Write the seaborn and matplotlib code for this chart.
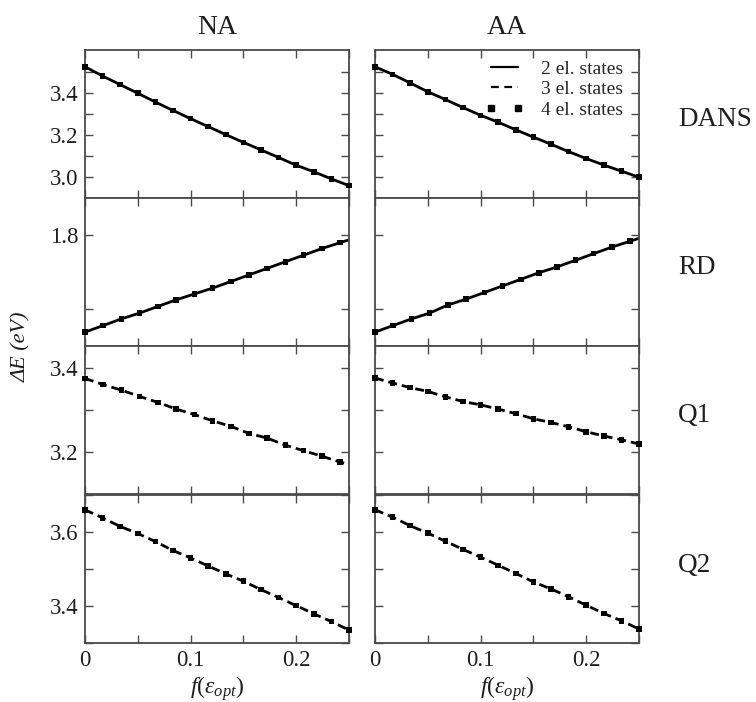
import matplotlib
matplotlib.use("Agg")
import matplotlib.pyplot as plt
import pandas as pd
import seaborn as sns
from matplotlib.lines import Line2D

sns.set_theme(style="ticks")
plt.rcParams["font.family"] = ["Liberation Serif", "DejaVu Serif"]
plt.rcParams["mathtext.fontset"] = "custom"
plt.rcParams["mathtext.rm"] = "Liberation Serif"
plt.rcParams["mathtext.it"] = "Liberation Serif:italic"

# Solvent polarity function f(eps_opt) for the two sampling grids
x16 = [0.0, 0.0167, 0.0333, 0.05, 0.0667, 0.0833, 0.1, 0.1167,
       0.1333, 0.15, 0.1667, 0.1833, 0.2, 0.2167, 0.2333, 0.25]
x15 = [0.0, 0.0173, 0.0345, 0.0518, 0.069, 0.0863, 0.1035, 0.1208,
       0.138, 0.1553, 0.1725, 0.1898, 0.207, 0.2243, 0.2415]
x_end = 0.25

molecules = ["DANS", "RD", "Q1", "Q2"]
columns = ["NA", "AA"]

# Excitation energies (eV), 4 electronic states
dans_na = [3.525, 3.481, 3.440, 3.399, 3.357, 3.317, 3.278, 3.240,
           3.202, 3.165, 3.129, 3.093, 3.056, 3.025, 2.991, 2.959]
dans_aa = [3.525, 3.489, 3.448, 3.406, 3.369, 3.331, 3.294, 3.261,
           3.225, 3.190, 3.156, 3.121, 3.088, 3.057, 3.028, 2.999]
rd_na = [1.668, 1.677, 1.686, 1.694, 1.703, 1.712, 1.720, 1.728,
         1.737, 1.746, 1.755, 1.764, 1.773, 1.782, 1.790]
rd_aa = [1.668, 1.677, 1.686, 1.694, 1.705, 1.713, 1.722, 1.731,
         1.740, 1.749, 1.757, 1.766, 1.775, 1.784, 1.792]
q1_na = [3.375, 3.360, 3.347, 3.332, 3.318, 3.302, 3.289, 3.274,
         3.261, 3.244, 3.233, 3.216, 3.203, 3.190, 3.176]
q1_aa = [3.376, 3.364, 3.353, 3.344, 3.331, 3.320, 3.312, 3.302,
         3.291, 3.279, 3.270, 3.260, 3.248, 3.238, 3.229, 3.219]
q2_na = [3.660, 3.638, 3.615, 3.596, 3.574, 3.550, 3.530, 3.508,
         3.487, 3.467, 3.444, 3.423, 3.401, 3.379, 3.358, 3.335]
q2_aa = [3.660, 3.640, 3.617, 3.597, 3.575, 3.553, 3.532, 3.510,
         3.488, 3.465, 3.446, 3.425, 3.402, 3.380, 3.360, 3.338]

# Values of the fewer-state curves at f = 0.25 where the 4-state grid stops earlier
rd_na_end = 1.794
rd_aa_end = 1.796
q1_na_end = 3.170

points = {
    ("DANS", "NA"): (x16, dans_na), ("DANS", "AA"): (x16, dans_aa),
    ("RD", "NA"): (x15, rd_na), ("RD", "AA"): (x15, rd_aa),
    ("Q1", "NA"): (x15, q1_na), ("Q1", "AA"): (x16, q1_aa),
    ("Q2", "NA"): (x16, q2_na), ("Q2", "AA"): (x16, q2_aa),
}
line_ends = {("RD", "NA"): rd_na_end, ("RD", "AA"): rd_aa_end,
             ("Q1", "NA"): q1_na_end}

rows = []
for (mol, col), (xs, ys) in points.items():
    for xv, yv in zip(xs, ys):
        rows.append(dict(mol=mol, col=col, f=xv, E=yv, kind="pts"))
        rows.append(dict(mol=mol, col=col, f=xv, E=yv, kind="line"))
    if (mol, col) in line_ends:
        rows.append(dict(mol=mol, col=col, f=x_end, E=line_ends[(mol, col)], kind="line"))
df = pd.DataFrame(rows)

# Axis settings per molecule: limits, major ticks, minor ticks
ylims = {"DANS": (2.905, 3.605), "RD": (1.649, 1.851),
         "Q1": (3.101, 3.452), "Q2": (3.3035, 3.70)}
ymajor = {"DANS": [3.0, 3.2, 3.4], "RD": [1.8], "Q1": [3.2, 3.4], "Q2": [3.4, 3.6]}
yminor = {"DANS": [2.9, 3.1, 3.3, 3.5], "RD": [1.7], "Q1": [3.1, 3.3], "Q2": [3.3, 3.5, 3.7]}
line_style = {"DANS": "-", "RD": "-", "Q1": (0, (3.2, 1.8)), "Q2": (0, (3.2, 1.8))}

W, H = 756, 702
fig = plt.figure(figsize=(W / 100, H / 100), dpi=100)
col_left = {"NA": 85, "AA": 375}
ax_w = 264
row_top = [50, 198, 346, 495]
ax_h = 148
spine_col = "#4a4a4a"
text_col = "#1e1e1e"

for i, mol in enumerate(molecules):
    for col in columns:
        ax = fig.add_axes([col_left[col] / W, 1 - (row_top[i] + ax_h) / H,
                           ax_w / W, ax_h / H])
        sub = df[(df.mol == mol) & (df.col == col)]
        sns.lineplot(data=sub[sub.kind == "line"], x="f", y="E", ax=ax,
                     color="black", lw=2.0, linestyle=line_style[mol],
                     sort=True, estimator=None)
        sns.scatterplot(data=sub[sub.kind == "pts"], x="f", y="E", ax=ax,
                        marker="s", s=16, color="black", edgecolor="none",
                        zorder=3, clip_on=False)
        ax.set_xlim(0, 0.25)
        ax.set_ylim(*ylims[mol])
        ax.set_xticks([0, 0.1, 0.2])
        ax.set_xticks([0.05, 0.15, 0.25], minor=True)
        ax.set_yticks(ymajor[mol])
        ax.set_yticks(yminor[mol], minor=True)
        if i == len(molecules) - 1:
            ax.set_xticklabels(["0", "0.1", "0.2"])
        else:
            ax.set_xticklabels([])
        if col == "NA":
            ax.set_yticklabels([f"{v:.1f}" for v in ymajor[mol]])
        else:
            ax.set_yticklabels([])
        ax.set_xlabel("")
        ax.set_ylabel("")
        ax.tick_params(which="both", direction="in", top=True, right=True,
                       length=6, width=1.0, color=spine_col,
                       labelsize=16.5, labelcolor=text_col, pad=5)
        for sp in ax.spines.values():
            sp.set_color(spine_col)
            sp.set_linewidth(1.3)
        if i == len(molecules) - 1:
            ax.set_xlabel(r"$f(\varepsilon_{opt})$", fontsize=17,
                          color=text_col, labelpad=2)
        if mol == "DANS" and col == "AA":
            handles = [
                Line2D([], [], color="black", lw=1.6, ls="-"),
                Line2D([], [], color="black", lw=1.6, ls=(0, (3.5, 2.5))),
                Line2D([], [], color="black", ls="none", marker="s", ms=4),
            ]
            ax.legend(handles, ["2 el. states", "3 el. states", "4 el. states"],
                      loc="upper right", frameon=False, fontsize=14,
                      handlelength=2.0, numpoints=2, handletextpad=0.9,
                      labelspacing=0.15, borderaxespad=0.0,
                      bbox_to_anchor=(0.97, 0.985))

    fig.text(678 / W, 1 - (row_top[i] + 70) / H, mol, ha="left", va="center",
             fontsize=19.5, color=text_col)

for col in columns:
    fig.text((col_left[col] + ax_w / 2) / W, 1 - 27 / H, col, ha="center",
             va="center", fontsize=20, color=text_col)

fig.text(22 / W, 1 - 347 / H, "ΔE (eV)", rotation=90, ha="center",
         va="center", fontsize=16, style="italic", color=text_col)

fig.savefig("out.png", dpi=100)
